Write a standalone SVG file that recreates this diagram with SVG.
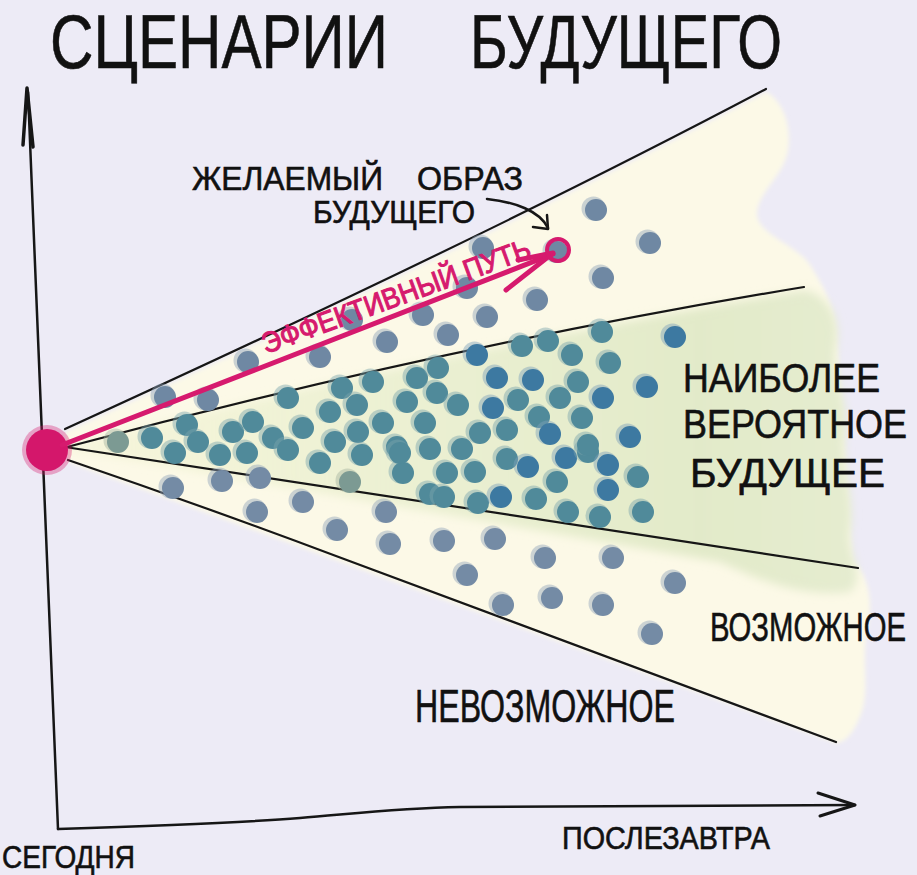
<svg xmlns="http://www.w3.org/2000/svg" xmlns:xlink="http://www.w3.org/1999/xlink" width="917" height="875" viewBox="0 0 917 875">
<style>
.ink{fill:none;stroke:#161616;stroke-linecap:round;stroke-linejoin:round}
.hand{font-family:"Liberation Sans","DejaVu Sans",sans-serif;fill:#111;stroke:#111;stroke-width:0.6}
.pink{fill:none;stroke:#d61a6e;stroke-linecap:round;stroke-linejoin:round}
</style>
<defs>
<linearGradient id="gGreen" x1="60" y1="0" x2="860" y2="0" gradientUnits="userSpaceOnUse">
<stop offset="0" stop-color="#f4f4d6" stop-opacity="0.7"/>
<stop offset="0.45" stop-color="#ebf0d2"/>
<stop offset="0.8" stop-color="#e2eac9"/>
<stop offset="1" stop-color="#e5ecd0"/>
</linearGradient>
<filter id="soft" x="-10%" y="-10%" width="120%" height="120%"><feGaussianBlur stdDeviation="5"/></filter>
<filter id="soft2" x="-10%" y="-10%" width="120%" height="120%"><feGaussianBlur stdDeviation="2"/></filter>
<g id="u"><circle cx="-2.5" cy="-1.5" r="12" fill="#8ea2b8" opacity="0.45"/><circle r="11" fill="#6f88a3"/></g>
<g id="p"><circle cx="-2.5" cy="-1.5" r="12" fill="#7aa3ad" opacity="0.45"/><circle r="11" fill="#508a9a"/></g>
<g id="b"><circle cx="-2.5" cy="-1.5" r="12" fill="#7c9fbb" opacity="0.45"/><circle r="11" fill="#3d79a1"/></g>
<g id="y"><circle cx="-2.5" cy="-1.5" r="12" fill="#a3b3a0" opacity="0.45"/><circle r="11" fill="#7c9a93"/></g>
<g id="l"><circle cx="-2.5" cy="-1.5" r="12" fill="#93a5ba" opacity="0.45"/><circle r="11" fill="#748ba5"/></g>
</defs>

<rect id="background" width="917" height="875" fill="#edebf6"/>

<g id="regions">
<path id="possible-area" filter="url(#soft2)" fill="#fcf9e7" d="M65,432 Q480,243 766,92 C782,100 792,125 788,150 C784,175 760,190 757,212 C755,235 800,245 812,268 C822,285 832,300 836,330 L852,560 C868,575 874,600 867,630 C861,660 870,690 861,714 C853,734 846,742 836,743 L68,462 Z"/>
<path id="probable-area" filter="url(#soft)" fill="url(#gGreen)" d="M66,447 Q450,348 805,290 C825,295 842,315 836,345 C830,375 850,400 845,430 C840,465 856,500 850,530 C846,555 868,575 850,592 C800,598 760,580 720,562 L66,449 Z"/>
</g>

<g id="axes">
<path class="ink" stroke-width="2.5" d="M28,92 L58,829"/>
<path class="ink" stroke-width="3.5" d="M23,145 L27,88 L33,147"/>
<path class="ink" stroke-width="2.5" d="M58,829 C150,826 250,822 300,818 C360,813 400,808 460,807 L855,805"/>
<path class="ink" stroke-width="3" d="M818,793 L855,805 L820,816"/>
</g>

<g id="fan-lines">
<path class="ink" stroke-width="2.2" d="M65,429 Q480,240 766,89"/>
<path class="ink" stroke-width="2.2" d="M67,447 Q450,345 804,287"/>
<path class="ink" stroke-width="2.2" stroke="#24241a" d="M65,447 L858,568"/>
<path class="ink" stroke-width="2.2" d="M68,460 Q200,505 336,556 L836,742"/>
</g>

<g id="dots-upper">
<use href="#u" x="596" y="210"/><use href="#u" x="650" y="243"/><use href="#u" x="603" y="278"/>
<use href="#u" x="557" y="252"/><use href="#u" x="483" y="248"/><use href="#u" x="467" y="288"/>
<use href="#u" x="537" y="300"/><use href="#u" x="487" y="317"/><use href="#u" x="423" y="315"/>
<use href="#u" x="448" y="335"/><use href="#u" x="387" y="342"/><use href="#u" x="352" y="320"/>
<use href="#u" x="320" y="357"/><use href="#u" x="248" y="362"/><use href="#u" x="208" y="400"/>
<use href="#u" x="165" y="397"/>
</g>

<g id="dots-probable">
<use href="#y" x="118" y="442"/><use href="#p" x="152" y="438"/><use href="#p" x="175" y="453"/>
<use href="#p" x="187" y="425"/><use href="#p" x="198" y="442"/><use href="#p" x="233" y="432"/>
<use href="#p" x="220" y="455"/><use href="#p" x="247" y="453"/><use href="#p" x="253" y="422"/>
<use href="#p" x="273" y="438"/><use href="#p" x="288" y="450"/><use href="#p" x="288" y="398"/>
<use href="#p" x="303" y="428"/><use href="#p" x="320" y="463"/><use href="#p" x="330" y="412"/>
<use href="#p" x="335" y="442"/><use href="#p" x="342" y="388"/><use href="#p" x="357" y="405"/>
<use href="#p" x="358" y="432"/><use href="#p" x="362" y="455"/><use href="#p" x="373" y="382"/>
<use href="#p" x="383" y="423"/><use href="#p" x="397" y="447"/><use href="#p" x="403" y="473"/>
<use href="#p" x="407" y="402"/><use href="#p" x="417" y="378"/><use href="#p" x="425" y="423"/>
<use href="#p" x="430" y="449"/><use href="#p" x="437" y="393"/><use href="#p" x="438" y="368"/>
<use href="#p" x="447" y="473"/><use href="#p" x="458" y="405"/><use href="#p" x="462" y="449"/>
<use href="#b" x="477" y="355"/><use href="#p" x="480" y="433"/><use href="#p" x="475" y="472"/>
<use href="#b" x="493" y="408"/><use href="#b" x="497" y="378"/><use href="#p" x="507" y="430"/>
<use href="#p" x="507" y="459"/><use href="#p" x="518" y="400"/><use href="#b" x="528" y="467"/>
<use href="#b" x="533" y="380"/><use href="#p" x="522" y="346"/><use href="#p" x="539" y="417"/>
<use href="#b" x="550" y="434"/><use href="#p" x="548" y="341"/><use href="#p" x="557" y="482"/>
<use href="#y" x="350" y="482"/><use href="#p" x="430" y="494"/><use href="#p" x="444" y="497"/>
<use href="#p" x="478" y="503"/><use href="#b" x="501" y="497"/><use href="#p" x="536" y="499"/>
<use href="#p" x="400" y="453"/><use href="#b" x="566" y="458"/><use href="#p" x="588" y="452"/>
<use href="#b" x="608" y="465"/><use href="#p" x="638" y="477"/><use href="#b" x="608" y="490"/>
<use href="#p" x="568" y="512"/><use href="#p" x="600" y="517"/><use href="#p" x="643" y="512"/>
<use href="#p" x="602" y="332"/><use href="#b" x="675" y="337"/><use href="#p" x="572" y="355"/>
<use href="#p" x="610" y="363"/><use href="#p" x="578" y="382"/><use href="#b" x="647" y="387"/>
<use href="#p" x="560" y="398"/><use href="#b" x="603" y="398"/><use href="#p" x="582" y="418"/>
<use href="#b" x="630" y="437"/><use href="#p" x="588" y="445"/>
</g>

<g id="dots-lower">
<use href="#l" x="173" y="488"/><use href="#l" x="222" y="481"/><use href="#l" x="260" y="478"/>
<use href="#l" x="257" y="512"/><use href="#l" x="303" y="502"/><use href="#l" x="337" y="530"/>
<use href="#l" x="386" y="512"/><use href="#l" x="390" y="544"/><use href="#l" x="444" y="541"/>
<use href="#l" x="495" y="539"/><use href="#l" x="467" y="575"/><use href="#l" x="545" y="558"/>
<use href="#l" x="613" y="558"/><use href="#l" x="675" y="583"/><use href="#l" x="503" y="605"/>
<use href="#l" x="552" y="598"/><use href="#l" x="603" y="605"/><use href="#l" x="652" y="634"/>
</g>

<g id="today-point">
<circle cx="47" cy="450" r="25" fill="#d61a6e" opacity="0.35"/>
<circle cx="47" cy="450" r="21" fill="#d4176b"/>
</g>

<g id="effective-path">
<path class="pink" stroke-width="5" d="M62,445 L553,254"/>
<path class="pink" stroke-width="5" d="M518,260 L553,253 L506,290"/>
<circle cx="558" cy="250" r="11" class="pink" stroke-width="4"/>
<text class="hand" x="266" y="354" font-size="29" textLength="284" lengthAdjust="spacingAndGlyphs" transform="rotate(-20 266 354)" style="fill:#d61a6e;stroke:#d61a6e;stroke-width:1.1">ЭФФЕКТИВНЫЙ ПУТЬ</text>
</g>

<g id="desired-label">
<text class="hand" x="192" y="190" font-size="33" textLength="191" lengthAdjust="spacingAndGlyphs">ЖЕЛАЕМЫЙ</text>
<text class="hand" x="417" y="190" font-size="33" textLength="106" lengthAdjust="spacingAndGlyphs">ОБРАЗ</text>
<text class="hand" x="313" y="223" font-size="31" textLength="162" lengthAdjust="spacingAndGlyphs">БУДУЩЕГО</text>
<path class="ink" stroke-width="2.5" d="M487,199 C515,202 540,211 548,228"/>
<path class="ink" stroke-width="2.5" d="M533,227 L548,229 L547,215"/>
</g>

<g id="title">
<text class="hand" x="50" y="68" font-size="76" stroke-width="2.6" textLength="338" lengthAdjust="spacingAndGlyphs">СЦЕНАРИИ</text>
<text class="hand" x="470" y="68" font-size="76" stroke-width="2.6" textLength="312" lengthAdjust="spacingAndGlyphs">БУДУЩЕГО</text>
</g>

<g id="region-labels">
<text class="hand" x="683" y="392" font-size="40" textLength="197" lengthAdjust="spacingAndGlyphs">НАИБОЛЕЕ</text>
<text class="hand" x="683" y="438" font-size="40" textLength="224" lengthAdjust="spacingAndGlyphs">ВЕРОЯТНОЕ</text>
<text class="hand" x="690" y="487" font-size="40" textLength="195" lengthAdjust="spacingAndGlyphs">БУДУЩЕЕ</text>
<text class="hand" x="710" y="641" font-size="40" textLength="196" lengthAdjust="spacingAndGlyphs">ВОЗМОЖНОЕ</text>
<text class="hand" x="415" y="722" font-size="46" textLength="260" lengthAdjust="spacingAndGlyphs">НЕВОЗМОЖНОЕ</text>
</g>

<g id="axis-labels">
<text class="hand" x="562" y="849" font-size="31" textLength="208" lengthAdjust="spacingAndGlyphs">ПОСЛЕЗАВТРА</text>
<text class="hand" x="2" y="868" font-size="32" textLength="133" lengthAdjust="spacingAndGlyphs">СЕГОДНЯ</text>
</g>
</svg>
